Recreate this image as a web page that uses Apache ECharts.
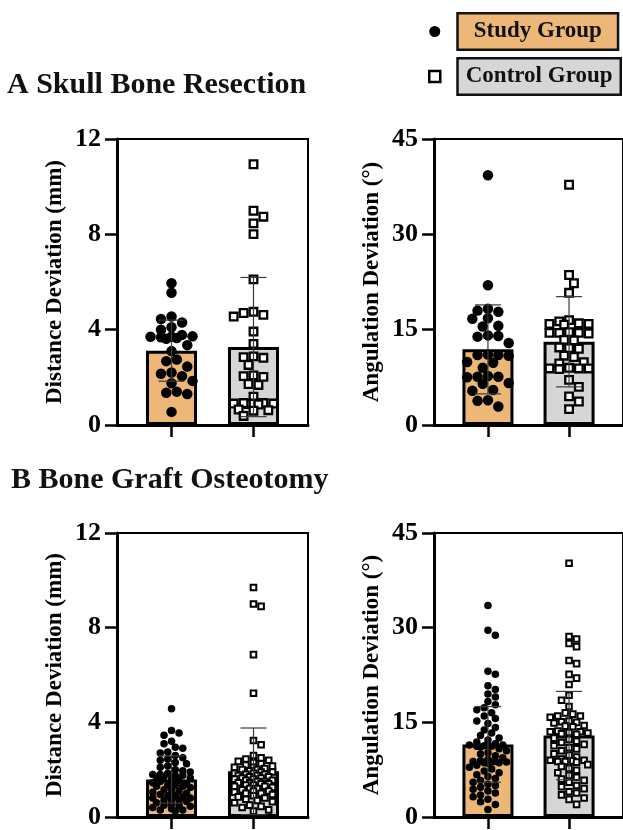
<!DOCTYPE html>
<html><head><meta charset="utf-8">
<script src="https://cdn.jsdelivr.net/npm/echarts@6/dist/echarts.min.js"></script>
<style>html,body{margin:0;padding:0;background:#fff}#c{width:623px;height:830px}</style>
</head><body><div id="c"></div>
<script>
// ---------- data ----------
const groups = ['Study Group', 'Control Group'];
const groupX = [1, 2];
const panelTitles = ['A Skull Bone Resection', 'B Bone Graft Osteotomy'];
const yNames = ['Distance Deviation (mm)', 'Angulation Deviation (°)'];
const distAxis = { max: 12, interval: 4 };
const angAxis = { max: 45, interval: 15 };

const aDistMean = [3.12, 3.27], aDistSD = [1.28, 2.92];
const aAngMean = [11.9, 13.1], aAngSD = [7.0, 7.1];
const bDistMean = [1.58, 1.93], bDistSD = [1.0, 1.83];
const bAngMean = [11.5, 12.9], bAngSD = [6.0, 7.0];

// individual observations
const aDistStudy = [5.95, 5.55, 4.55, 4.45, 4.3, 4.1, 4.0, 3.78, 3.72, 3.7, 3.7, 3.68, 3.65, 3.62, 3.35, 3.1, 2.75, 2.68, 2.45, 2.2, 2.15, 2.05, 1.85, 1.75, 1.4, 1.35, 1.3, 0.55];
const aDistControl = [10.94, 8.99, 8.74, 8.46, 8.01, 6.11, 4.75, 4.7, 4.62, 4.55, 3.92, 3.4, 2.88, 2.85, 2.82, 2.52, 2.08, 2.05, 2.02, 1.72, 1.68, 1.19, 0.92, 0.9, 0.9, 0.88, 0.9, 0.86, 0.92, 0.65, 0.62, 0.6, 0.38];
const aAngStudy = [39.3, 22.0, 18.3, 18.0, 17.8, 16.8, 16.7, 15.6, 15.5, 14.1, 14.0, 13.9, 12.9, 11.1, 11.0, 11.0, 10.9, 9.9, 9.8, 9.0, 7.7, 7.6, 7.6, 7.5, 6.6, 6.5, 5.5, 5.4, 3.9, 3.8, 2.9];
const aAngControl = [37.8, 23.6, 22.3, 20.8, 16.5, 16.3, 16.0, 15.9, 15.9, 15.8, 14.6, 14.5, 14.5, 14.4, 14.5, 13.4, 13.3, 12.2, 12.1, 12.0, 10.9, 10.7, 9.9, 9.7, 9.0, 8.9, 8.9, 8.8, 8.9, 7.1, 6.0, 4.5, 3.7, 2.5];
const bDistStudy = [4.57, 3.65, 3.55, 3.45, 3.2, 3.1, 2.95, 2.9, 2.75, 2.7, 2.6, 2.5, 2.45, 2.4, 2.3, 2.25, 2.15, 2.1, 2.0, 1.95, 1.9, 1.85, 1.8, 1.8, 1.75, 1.75, 1.7, 1.7, 1.65, 1.6, 1.55, 1.5, 1.45, 1.4, 1.35, 1.35, 1.3, 1.3, 1.25, 1.2, 1.15, 1.1, 1.05, 1.0, 1.0, 0.95, 0.9, 0.9, 0.85, 0.8, 0.8, 0.75, 0.7, 0.7, 0.65, 0.6, 0.55, 0.5, 0.5, 0.45, 0.4, 0.35, 0.3, 0.3, 0.25];
const bDistControl = [9.7, 9.0, 8.9, 6.86, 5.23, 3.23, 3.05, 2.6, 2.5, 2.45, 2.4, 2.35, 2.3, 2.25, 2.2, 2.15, 2.1, 2.1, 2.05, 2.0, 2.0, 1.95, 1.9, 1.9, 1.85, 1.85, 1.8, 1.8, 1.75, 1.75, 1.7, 1.7, 1.65, 1.65, 1.6, 1.6, 1.55, 1.55, 1.5, 1.5, 1.45, 1.45, 1.4, 1.4, 1.35, 1.35, 1.3, 1.3, 1.25, 1.2, 1.2, 1.15, 1.1, 1.1, 1.05, 1.0, 1.0, 0.95, 0.9, 0.85, 0.8, 0.75, 0.7, 0.65, 0.6, 0.5, 0.45, 0.4, 0.3, 0.25];
const bAngStudy = [33.5, 29.6, 28.8, 23.1, 22.6, 20.8, 20.2, 19.5, 19.0, 18.3, 17.8, 17.3, 17.0, 16.5, 16.0, 15.6, 15.2, 14.8, 14.2, 13.8, 13.3, 12.9, 12.5, 12.2, 11.9, 11.6, 11.4, 11.4, 11.3, 11.3, 11.2, 11.2, 11.1, 10.8, 10.5, 10.2, 10.0, 9.7, 9.4, 9.1, 8.9, 8.8, 8.8, 8.7, 8.7, 8.6, 8.6, 8.5, 8.2, 7.9, 7.6, 7.3, 7.0, 6.7, 6.4, 6.1, 5.8, 5.5, 5.2, 5.0, 4.7, 4.4, 4.1, 3.8, 3.5, 3.2, 2.8, 2.4, 2.0, 1.2];
const bAngControl = [40.2, 28.6, 28.2, 27.5, 27.0, 24.8, 24.3, 22.6, 22.0, 21.0, 19.3, 18.5, 17.5, 16.5, 16.3, 16.0, 16.0, 15.8, 15.2, 15.1, 15.0, 14.9, 14.5, 14.4, 14.3, 13.6, 13.5, 13.5, 13.4, 13.3, 13.2, 13.1, 12.5, 12.3, 12.0, 11.8, 11.5, 11.3, 11.0, 10.8, 10.5, 10.0, 9.8, 9.5, 9.2, 9.0, 9.0, 8.9, 8.9, 8.8, 8.8, 8.7, 8.3, 8.0, 7.7, 7.4, 7.0, 6.6, 6.3, 6.0, 5.8, 5.5, 5.0, 4.8, 4.5, 4.0, 3.8, 3.5, 3.0, 2.8, 2.0];

// ---------- style / layout ----------
const FONT = "'Liberation Serif','Times New Roman',serif";
const ORANGE = '#EDB877', GRAY = '#D6D6D6';
const X_MIN = 0.335, X_MAX = 2.665;
const panels = [
  { grid: { left: 117, top: 139, width: 191, height: 286 }, axis: distAxis, name: yNames[0], mean: aDistMean, sd: aDistSD, pts: [aDistStudy, aDistControl], dot: 10.5, sq: 7.6, sqb: 2.3, half: 27 },
  { grid: { left: 434, top: 139, width: 191, height: 286 }, axis: angAxis, name: yNames[1], mean: aAngMean, sd: aAngSD, pts: [aAngStudy, aAngControl], dot: 10.5, sq: 7.6, sqb: 2.3, half: 27 },
  { grid: { left: 117, top: 533, width: 191, height: 287 }, axis: distAxis, name: yNames[0], mean: bDistMean, sd: bDistSD, pts: [bDistStudy, bDistControl], dot: 7.5, sq: 5.6, sqb: 2.0, half: 25 },
  { grid: { left: 434, top: 533, width: 191, height: 286 }, axis: angAxis, name: yNames[1], mean: bAngMean, sd: bAngSD, pts: [bAngStudy, bAngControl], dot: 7.5, sq: 5.6, sqb: 2.0, half: 25 }
];

// beeswarm placement (horizontal spread computed from values in pixel space, capped to the bar width)
function swarm(values, center, diam, pxX, pxY, half) {
  const idx = values.map((v, i) => i).sort((a, b) => values[b] - values[a]);
  const placed = [];
  const out = new Array(values.length);
  const step = diam * 0.5;
  const cands = [0];
  for (let n = 1; n * step <= half; n++) { cands.push(n * step, -n * step); }
  let flip = 1;
  idx.forEach(i => {
    const py = values[i] * pxY;
    let best = 0, bestD = -1;
    for (const c0 of cands) {
      const c = c0 * flip;
      let dmin = Infinity;
      for (const p of placed) { const d = Math.hypot(p[0] - c, p[1] - py); if (d < dmin) dmin = d; }
      if (dmin >= diam * 0.9) { best = c; break; }
      if (dmin > bestD + 0.5) { bestD = dmin; best = c; }
    }
    flip = -flip;
    placed.push([best, py]);
    out[i] = [center + best / pxX, values[i]];
  });
  return out;
}

const grids = [], xAxes = [], yAxes = [], series = [];
panels.forEach((p, k) => {
  grids.push(Object.assign({ show: true, borderColor: '#000', borderWidth: 2, containLabel: false }, p.grid));
  xAxes.push({
    gridIndex: k, type: 'value', min: X_MIN, max: X_MAX,
    axisLine: { show: true, onZero: false, lineStyle: { color: '#000', width: 3 } },
    axisTick: { show: true, customValues: groupX, length: 12, lineStyle: { color: '#000', width: 2.5 } },
    axisLabel: { show: false }, splitLine: { show: false }
  });
  yAxes.push({
    gridIndex: k, type: 'value', min: 0, max: p.axis.max, interval: p.axis.interval,
    name: p.name, nameLocation: 'middle', nameGap: 50,
    nameTextStyle: { fontFamily: FONT, fontWeight: 'bold', fontSize: 23, color: '#000' },
    axisLine: { show: true, lineStyle: { color: '#000', width: 3 } },
    axisTick: { show: true, length: 12, lineStyle: { color: '#000', width: 2.5 } },
    axisLabel: { fontFamily: FONT, fontWeight: 'bold', fontSize: 26, color: '#000', margin: 16 },
    splitLine: { show: false }
  });
  const pxX = p.grid.width / (X_MAX - X_MIN);
  const pxY = p.grid.height / p.axis.max;
  series.push({
    type: 'bar', name: 'mean' + k, xAxisIndex: k, yAxisIndex: k, barWidth: 51, z: 2,
    itemStyle: { borderColor: '#000', borderWidth: 3 },
    data: groupX.map((x, g) => ({ value: [x, p.mean[g]], itemStyle: { color: g === 0 ? ORANGE : GRAY } }))
  });
  series.push({
    type: 'scatter', name: groups[0], xAxisIndex: k, yAxisIndex: k, z: 3,
    symbol: 'circle', symbolSize: p.dot, itemStyle: { color: '#000', opacity: 1 },
    data: swarm(p.pts[0], groupX[0], p.dot, pxX, pxY, p.half - p.dot / 2)
  });
  series.push({
    type: 'scatter', name: groups[1], xAxisIndex: k, yAxisIndex: k, z: 3,
    symbol: 'rect', symbolSize: p.sq, itemStyle: { color: '#fff', borderColor: '#000', borderWidth: p.sqb, opacity: 1 },
    data: swarm(p.pts[1], groupX[1], p.sq + p.sqb, pxX, pxY, p.half - (p.sq + p.sqb) / 2)
  });
  series.push({
    type: 'custom', name: 'sd' + k, xAxisIndex: k, yAxisIndex: k, z: 4,
    encode: { x: 0, y: 1 },
    data: groupX.map((x, g) => [x, p.mean[g], p.sd[g]]),
    renderItem: (params, api) => {
      const x = api.value(0), m = api.value(1), s = api.value(2);
      const t = api.coord([x, m + s]), b = api.coord([x, Math.max(0, m - s)]);
      const hw = 13, st = { stroke: '#3a3a3a', lineWidth: 1.2 };
      return { type: 'group', children: [
        { type: 'line', shape: { x1: t[0], y1: t[1], x2: b[0], y2: b[1] }, style: st },
        { type: 'line', shape: { x1: t[0] - hw, y1: t[1], x2: t[0] + hw, y2: t[1] }, style: st },
        { type: 'line', shape: { x1: b[0] - hw, y1: b[1], x2: b[0] + hw, y2: b[1] }, style: st }
      ] };
    }
  });
});

const option = {
  animation: false,
  backgroundColor: '#fff',
  title: [
    { text: panelTitles[0], left: 7, top: 70, padding: 0, textStyle: { fontFamily: FONT, fontWeight: 'bold', fontSize: 30, color: '#111' } },
    { text: panelTitles[1], left: 11, top: 465, padding: 0, textStyle: { fontFamily: FONT, fontWeight: 'bold', fontSize: 30, color: '#111' } }
  ],
  legend: {
    orient: 'vertical', left: 428, top: 12, padding: 0, itemGap: 6,
    itemWidth: 38, itemHeight: 11, selectedMode: false,
    data: [
      { name: groups[0], icon: 'circle', itemStyle: { color: '#000' },
        textStyle: { fontFamily: FONT, fontWeight: 'bold', fontSize: 23, lineHeight: 24, color: '#111', backgroundColor: ORANGE, borderColor: '#111', borderWidth: 2.5, padding: [5, 15, 5, 15] } },
      { name: groups[1], icon: 'path://M0,0L10,0L10,10L0,10Z', itemStyle: { color: '#fff', borderColor: '#000', borderWidth: 2.5 },
        textStyle: { fontFamily: FONT, fontWeight: 'bold', fontSize: 23, lineHeight: 24, color: '#111', backgroundColor: GRAY, borderColor: '#111', borderWidth: 2.5, padding: [5, 7, 5, 7] } }
    ]
  },
  grid: grids, xAxis: xAxes, yAxis: yAxes, series: series
};
const chart = echarts.init(document.getElementById('c'), null, { renderer: 'canvas' });
chart.setOption(option);
</script></body></html>
